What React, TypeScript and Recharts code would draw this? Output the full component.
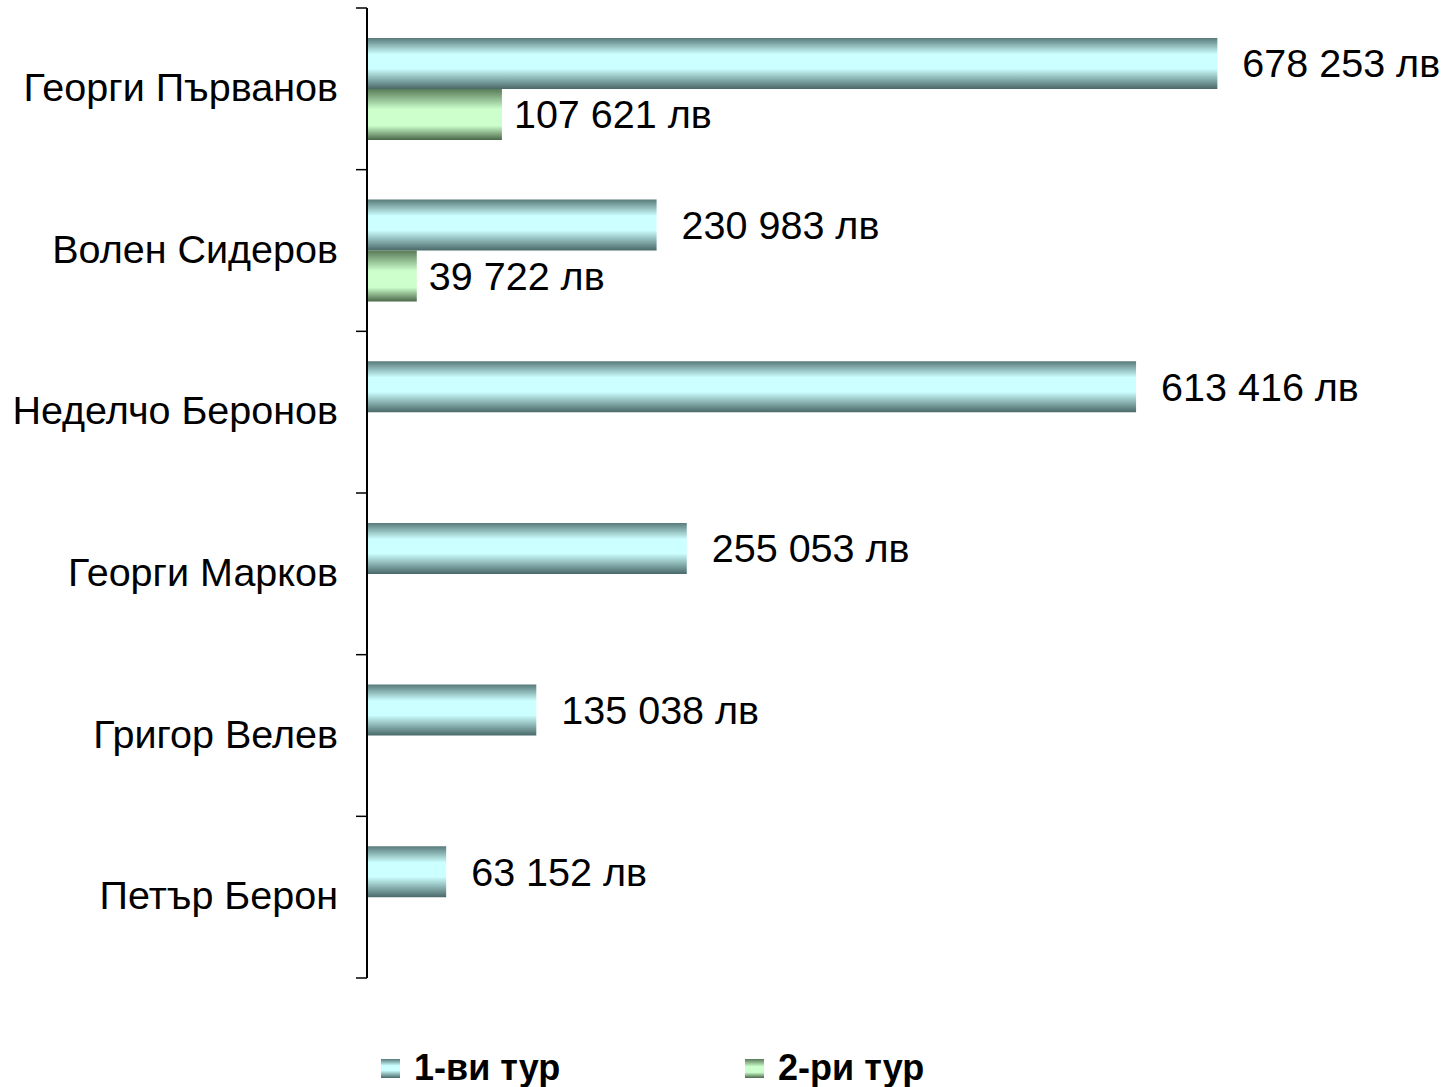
import React from 'react';
import { BarChart, Bar, XAxis, YAxis, Legend, LabelList } from 'recharts';

const candidates = [
  'Георги Първанов',
  'Волен Сидеров',
  'Неделчо Беронов',
  'Георги Марков',
  'Григор Велев',
  'Петър Берон',
];
const round1 = [678253, 230983, 613416, 255053, 135038, 63152];
const round2 = [107621, 39722, null, null, null, null];
const seriesNames = ['1-ви тур', '2-ри тур'];

const data = candidates.map((name, i) => ({ name, r1: round1[i], r2: round2[i] }));

const FONT = '"Liberation Sans", Arial, sans-serif';
const FS = 39.5;
const TICK_MARGIN = 29;
const TICK_LEN = 11;

const fmt = (v: any) => {
  if (v === null || v === undefined) return '';
  return String(v).replace(/\B(?=(\d{3})+(?!\d))/g, ' ') + ' лв';
};

function GradStops({ light, dark, darkB, lo, hi }: { light: string; dark: string; darkB: string; lo: string; hi: string }) {
  return (
    <>
      <stop offset="0%" stopColor={dark} />
      <stop offset={lo} stopColor={light} />
      <stop offset={hi} stopColor={light} />
      <stop offset="100%" stopColor={darkB} />
    </>
  );
}

// category label plus tick marks on the band boundaries (Excel style)
function CategoryTick(props: any) {
  const { x, y, payload, index, visibleTicksCount } = props;
  const half = payload.offset || 0;
  const axisX = x + TICK_MARGIN;
  return (
    <g>
      <line x1={axisX - TICK_LEN} x2={axisX} y1={y - half} y2={y - half} stroke="#000" strokeWidth={1.5} />
      {index === visibleTicksCount - 1 && (
        <line x1={axisX - TICK_LEN} x2={axisX} y1={y + half} y2={y + half} stroke="#000" strokeWidth={1.5} />
      )}
      <text x={x} y={y - 2} textAnchor="end" dominantBaseline="central" fill="#000" fontSize={FS} fontFamily={FONT}>
        {payload.value}
      </text>
    </g>
  );
}

function LegendContent() {
  const items = [
    { label: seriesNames[0], grad: 'lg1', left: 0 },
    { label: seriesNames[1], grad: 'lg2', left: 364 },
  ];
  return (
    <div style={{ position: 'relative', width: 600, height: 44 }}>
      <svg width={0} height={0} style={{ position: 'absolute' }}>
        <defs>
          <linearGradient id="lg1" x1="0" y1="0" x2="0" y2="1">
            <GradStops dark="#587a7a" light="#ccffff" darkB="#4a6868" lo="35%" hi="60%" />
          </linearGradient>
          <linearGradient id="lg2" x1="0" y1="0" x2="0" y2="1">
            <GradStops dark="#587a58" light="#ccffcc" darkB="#4a684a" lo="40%" hi="70%" />
          </linearGradient>
        </defs>
      </svg>
      {items.map((it) => (
        <div key={it.label} style={{ position: 'absolute', left: it.left, top: 0, display: 'flex', alignItems: 'center' }}>
          <svg width={19} height={19} style={{ marginRight: 14 }}>
            <rect x={0} y={0} width={19} height={19} fill={`url(#${it.grad})`} />
          </svg>
          <span style={{ fontFamily: FONT, fontWeight: 'bold', fontSize: 36, color: '#000', lineHeight: '44px' }}>
            {it.label}
          </span>
        </div>
      ))}
    </div>
  );
}

export default function App() {
  return (
    <div style={{ position: 'absolute', left: 0, top: 0, width: 1450, height: 1087, background: '#fff' }}>
      <BarChart
        width={1450}
        height={1087}
        data={data}
        layout="vertical"
        margin={{ top: 8, right: 80, bottom: 109, left: 0 }}
        barCategoryGap="18.5%"
        barGap={0}
      >
        <defs>
          <linearGradient id="g1" x1="0" y1="0" x2="0" y2="1">
            <GradStops dark="#587a7a" light="#ccffff" darkB="#4a6868" lo="32%" hi="60%" />
          </linearGradient>
          <linearGradient id="g2" x1="0" y1="0" x2="0" y2="1">
            <GradStops dark="#587a58" light="#ccffcc" darkB="#4a684a" lo="40%" hi="72%" />
          </linearGradient>
        </defs>
        <XAxis type="number" domain={[0, 800000]} hide />
        <YAxis
          type="category"
          dataKey="name"
          width={367}
          axisLine={{ stroke: '#000', strokeWidth: 2 }}
          tickLine={false}
          tickSize={0}
          tickMargin={TICK_MARGIN}
          interval={0}
          tick={<CategoryTick />}
        />
        <Legend
          layout="vertical"
          align="center"
          verticalAlign="middle"
          content={() => <LegendContent />}
          wrapperStyle={{ position: 'absolute', left: 381, top: 1046, width: 600, height: 44 }}
        />
        <Bar dataKey="r1" name={seriesNames[0]} fill="url(#g1)" isAnimationActive={false}>
          <LabelList dataKey="r1" position="right" offset={25} formatter={fmt} fill="#000" fontSize={FS} fontFamily={FONT} />
        </Bar>
        <Bar dataKey="r2" name={seriesNames[1]} fill="url(#g2)" isAnimationActive={false}>
          <LabelList dataKey="r2" position="right" offset={12} formatter={fmt} fill="#000" fontSize={FS} fontFamily={FONT} />
        </Bar>
      </BarChart>
    </div>
  );
}
